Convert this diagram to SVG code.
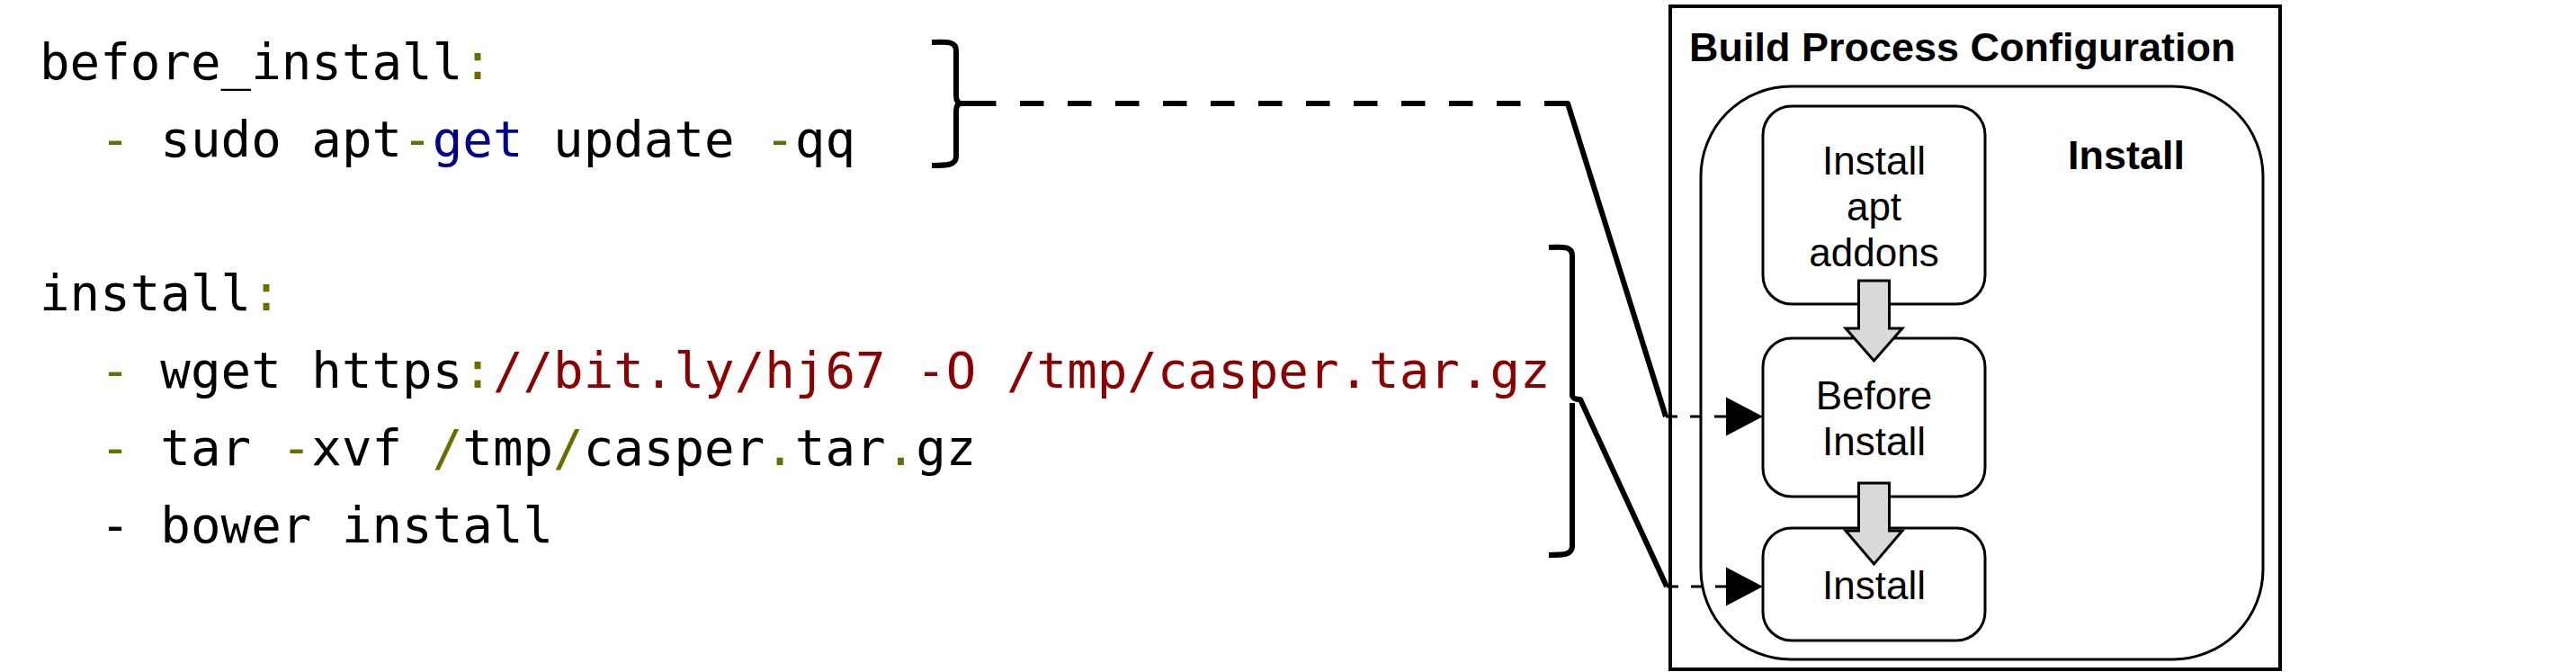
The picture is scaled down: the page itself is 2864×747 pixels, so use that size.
<svg xmlns="http://www.w3.org/2000/svg" width="2864" height="747" viewBox="0 0 2864 747">
<defs>
<style>
.code{font-family:"DejaVu Sans Mono","Liberation Mono",monospace;font-size:55.8px;fill:#000}
.ol{fill:#6b6b00}
.nv{fill:#00008b}
.rd{fill:#8b0000}
.title{font-family:"Liberation Sans",Arial,sans-serif;font-size:45px;font-weight:bold;fill:#000}
.lbl{font-family:"Liberation Sans",Arial,sans-serif;font-size:44px;fill:#000;text-anchor:middle}
.node{fill:#fff;stroke:#000;stroke-width:3}
.blk{fill:#d9d9d9;stroke:#000;stroke-width:3;stroke-linejoin:miter}
.thick{fill:none;stroke:#000;stroke-width:6;stroke-linejoin:round}
.thin{fill:none;stroke:#000;stroke-width:3;stroke-dasharray:13 14}
</style>
</defs>
<rect width="2864" height="747" fill="#fff"/>
<g id="code">
<text class="code" x="44" y="88" xml:space="preserve">before_install<tspan class="ol">:</tspan></text>
<text class="code" x="111.2" y="174" xml:space="preserve"><tspan class="ol">-</tspan> sudo apt<tspan class="ol">-</tspan><tspan class="nv">get</tspan> update <tspan class="ol">-</tspan>qq</text>
<text class="code" x="44" y="345" xml:space="preserve">install<tspan class="ol">:</tspan></text>
<text class="code" x="111.2" y="431" xml:space="preserve"><tspan class="ol">-</tspan> wget https<tspan class="ol">:</tspan><tspan class="rd">//bit.ly/hj67 -O /tmp/casper.tar.gz</tspan></text>
<text class="code" x="111.2" y="517" xml:space="preserve"><tspan class="ol">-</tspan> tar <tspan class="ol">-</tspan>xvf <tspan class="ol">/</tspan>tmp<tspan class="ol">/</tspan>casper<tspan class="ol">.</tspan>tar<tspan class="ol">.</tspan>gz</text>
<text class="code" x="111.2" y="603" xml:space="preserve">- bower install</text>
</g>
<g id="outer">
<rect x="1857" y="7" width="678" height="737" fill="#fff" stroke="#000" stroke-width="4"/>
<text class="title" x="1878" y="68">Build Process Configuration</text>
</g>
<g id="install-group">
<rect x="1891" y="96" width="625" height="637" rx="100" ry="100" fill="#fff" stroke="#000" stroke-width="3"/>
<text class="title" x="2299" y="188">Install</text>
</g>
<g id="node-apt">
<rect class="node" x="1960" y="118" width="247" height="220" rx="32" ry="32"/>
<text class="lbl" x="2083.5" y="194">Install</text>
<text class="lbl" x="2083.5" y="245">apt</text>
<text class="lbl" x="2083.5" y="296">addons</text>
</g>
<g id="node-before">
<rect class="node" x="1960" y="376" width="247" height="176" rx="32" ry="32"/>
<text class="lbl" x="2083.5" y="455">Before</text>
<text class="lbl" x="2083.5" y="506">Install</text>
</g>
<g id="node-install">
<rect class="node" x="1960" y="587" width="247" height="125" rx="32" ry="32"/>
<text class="lbl" x="2083.5" y="666">Install</text>
</g>
<g id="connectors">
<path class="blk" d="M2066.5,312 H2100.5 V365 H2115 L2083.5,401 L2052,365 H2066.5 Z"/>
<path class="blk" d="M2066.5,537 H2100.5 V590 H2115 L2083.5,627 L2052,590 H2066.5 Z"/>
<path class="thick" d="M1036,47 C1052,46 1063,46 1063,56 V106 Q1063,114 1068,115 H1081 M1068,115 Q1063,116 1063,124 V174 C1063,184 1052,184 1036,184"/>
<path class="thick" d="M1081,115 H1717" stroke-dasharray="26.5 26.5"/>
<path class="thick" d="M1717,115 H1743 L1852,463"/>
<path class="thick" d="M1722,275 C1738,274 1748,274 1748,284 V440 Q1749,444 1757,444 L1853,652 M1748,448 V607 C1748,617 1738,617 1722,617"/>
<path class="thin" d="M1852,463 H1920"/>
<path class="thin" d="M1853,652 H1920"/>
<polygon points="1919,441.5 1960,463 1919,484.5" fill="#000"/>
<polygon points="1919,630.5 1960,652 1919,673.5" fill="#000"/>
</g>
</svg>
